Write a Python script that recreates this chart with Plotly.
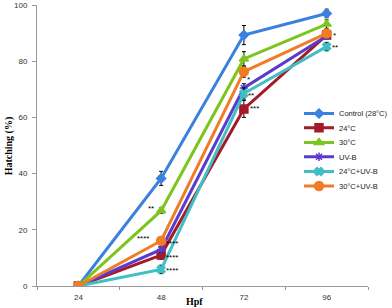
import plotly.graph_objects as go

hpf = ["24", "48", "72", "96"]
series_names = ["Control (28°C)", "24°C", "30°C", "UV-B", "24°C+UV-B", "30°C+UV-B"]
control = [0, 38.3, 89.3, 97.0]
c24 = [0, 11.0, 63.0, 89.3]
c30 = [0, 26.8, 80.8, 93.2]
uvb = [0, 13.0, 70.5, 89.0]
c24_uvb = [0, 5.9, 68.5, 85.2]
c30_uvb = [0, 16.1, 76.3, 89.9]
err_control = [0, 2.5, 3.4, 1.5]
err_24 = [0, 1.5, 3.0, 1.0]
err_30 = [0, 1.0, 2.6, 1.5]
err_uvb = [0, 1.0, 1.5, 1.0]
err_24_uvb = [0, 1.5, 2.0, 1.5]
err_30_uvb = [0, 1.0, 2.0, 1.0]

# significance marks: (category index, y value, text, x pixel shift, anchor)
sig_marks = [
    (1, 27.7, "**", -5, "right"),
    (1, 17.0, "****", -10, "right"),
    (1, 15.0, "****", 3, "left"),
    (1, 10.2, "****", 3, "left"),
    (1, 5.4, "****", 3, "left"),
    (2, 73.5, "*", 1, "left"),
    (2, 67.8, "**", 2, "left"),
    (2, 63.0, "***", 4, "left"),
    (3, 89.0, "*", 4, "left"),
    (3, 85.0, "**", 3, "left"),
]

values = [control, c24, c30, uvb, c24_uvb, c30_uvb]
errors = [err_control, err_24, err_30, err_uvb, err_24_uvb, err_30_uvb]
colors = ["#3A80DF", "#A31A28", "#7CC51E", "#5A3CCB", "#41BEC6", "#F07C26"]
symbols = ["diamond", "square", "triangle-up", "asterisk-open", "x", "circle"]
msizes = [7, 8, 8, 7, 7, 9]
legend_ids = ["legend", "legend2", "legend3", "legend4", "legend5", "legend6"]
legend_centers_px = [113.5, 127.8, 142.5, 156.8, 171.5, 186.0]

W, H = 392, 308
fig = go.Figure()
for name, y, e, c, s, ms, lg in zip(series_names, values, errors, colors, symbols, msizes, legend_ids):
    fig.add_trace(go.Scatter(
        x=hpf, y=y, name=name, mode="lines+markers", legend=lg,
        line=dict(color=c, width=3),
        marker=dict(symbol=s, size=ms, color=c, line=dict(color=c, width=1.5)),
        error_y=dict(type="data", array=e, color="black", thickness=1, width=2),
    ))

for xi, yv, txt, xs, anc in sig_marks:
    fig.add_annotation(x=xi, y=yv, xref="x", yref="y", text=txt, showarrow=False,
                       xanchor=anc, xshift=xs, font=dict(size=8, color="black", family="Liberation Sans"))

fig.add_annotation(text="<b>Hatching (%)</b>", xref="paper", yref="paper", x=-0.085, y=0.5,
                   textangle=-90, showarrow=False, xanchor="center", yanchor="middle",
                   font=dict(family="Liberation Serif", size=10, color="black"))
fig.add_annotation(text="<b>Hpf</b>", xref="paper", yref="paper", x=0.477, y=-0.027,
                   showarrow=False, xanchor="center", yanchor="top",
                   font=dict(family="Liberation Serif", size=10, color="black"))

plot_top, plot_bottom = 5, 286
legend_layouts = {}
for lg, cy in zip(legend_ids, legend_centers_px):
    legend_layouts[lg] = dict(
        xref="container", yref="container",
        x=299.0 / W, y=(H - cy) / H, xanchor="left", yanchor="middle",
        bgcolor="rgba(0,0,0,0)", font=dict(size=7.5, color="#222222", family="Liberation Sans"),
        itemwidth=30, borderwidth=0,
    )

fig.update_layout(
    width=W, height=H,
    margin=dict(l=37, r=24, t=plot_top, b=H - plot_bottom, autoexpand=False),
    paper_bgcolor="white", plot_bgcolor="white",
    font=dict(family="Liberation Sans", size=8, color="#333333"),
    showlegend=True,
    xaxis=dict(type="category", range=[-0.5, 3.5], tickson="boundaries", ticks="outside",
               ticklen=3, tickcolor="#999999", showline=True, linecolor="#999999", linewidth=1,
               showgrid=False, tickfont=dict(size=8, color="#333333"), ticklabelstandoff=3),
    yaxis=dict(range=[0, 100], dtick=20, ticks="outside", ticklen=4, tickcolor="#999999",
               showline=True, linecolor="#999999", linewidth=1, showgrid=False, zeroline=False,
               tickfont=dict(size=8, color="#333333"), ticklabelstandoff=3),
    **legend_layouts,
)

fig.write_html("out.html", config={"displayModeBar": False},
               post_script="document.body.style.margin='0';document.body.style.overflow='hidden';")
